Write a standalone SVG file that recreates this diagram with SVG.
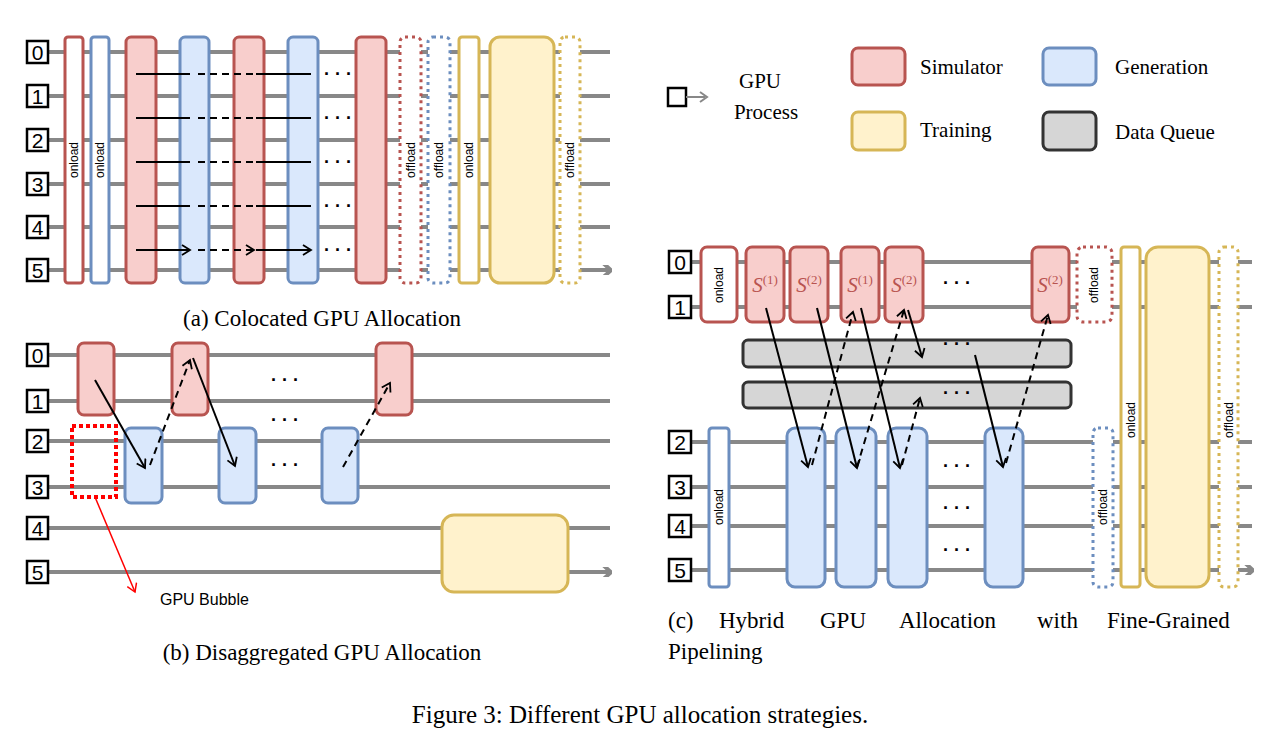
<svg xmlns="http://www.w3.org/2000/svg" width="1280" height="741" viewBox="0 0 1280 741">
<defs>
<marker id="ga" markerWidth="10" markerHeight="10" refX="8" refY="5" orient="auto" markerUnits="userSpaceOnUse"><path d="M0,-3 L9,5 L0,13" transform="scale(1.3) translate(-2,-1)" fill="none" stroke="#888" stroke-width="3"/></marker>
<marker id="ba" markerWidth="12" markerHeight="12" refX="10" refY="6" orient="auto" markerUnits="userSpaceOnUse"><path d="M2,1 L10,6 L2,11" fill="none" stroke="#000" stroke-width="1.8"/></marker>
<marker id="ra" markerWidth="12" markerHeight="12" refX="10" refY="6" orient="auto" markerUnits="userSpaceOnUse"><path d="M2,1 L10,6 L2,11" fill="none" stroke="#f00" stroke-width="1.5"/></marker>
</defs>
<style>
.ln{stroke:#888;stroke-width:4;fill:none}
.r{fill:#f8cecc;stroke:#b85450;stroke-width:3}
.b{fill:#dae8fc;stroke:#6c8ebf;stroke-width:3}
.y{fill:#fff2cc;stroke:#d6b656;stroke-width:3}
.g{fill:#d6d6d6;stroke:#333;stroke-width:3}
.rw{fill:#fff;stroke:#b85450;stroke-width:3}
.bw{fill:#fff;stroke:#6c8ebf;stroke-width:3}
.yw{fill:#fff;stroke:#d6b656;stroke-width:3}
.rd{fill:#fff;stroke:#b85450;stroke-width:3;stroke-dasharray:3 4}
.bd{fill:#fff;stroke:#6c8ebf;stroke-width:3;stroke-dasharray:3 4}
.yd{fill:#fff;stroke:#d6b656;stroke-width:3;stroke-dasharray:3 4}
.lb{fill:#fff;stroke:#000;stroke-width:2.5}
.num{font-family:"Liberation Sans",sans-serif;font-size:21px;text-anchor:middle}
.vt{font-family:"Liberation Sans",sans-serif;font-size:12px;text-anchor:middle}
.cap{font-family:"Liberation Serif",serif;font-size:23px}
.leg{font-family:"Liberation Serif",serif;font-size:21px}
.dots{font-family:"Liberation Sans",sans-serif;font-size:18px;text-anchor:middle;font-weight:bold}
.s{font-family:"Liberation Serif",serif;font-style:italic;font-size:21px;fill:#b85450;text-anchor:middle}
.ss{font-style:normal;font-size:13px}
.a{stroke:#000;stroke-width:2;fill:none;marker-end:url(#ba)}
.ad{stroke:#000;stroke-width:2;fill:none;stroke-dasharray:7 5;marker-end:url(#ba)}
</style>

<!-- Panel (a) -->
<g id="a-lines">
<path class="ln" d="M48,52H610M48,96H610M48,140H610M48,184H610M48,227H610M48,270H610" marker-end="url(#ga)"/>
</g>
<g id="a-labels">
<rect class="lb" x="27" y="41" width="21" height="22"/><text class="num" x="37.5" y="60">0</text>
<rect class="lb" x="27" y="85" width="21" height="22"/><text class="num" x="37.5" y="104">1</text>
<rect class="lb" x="27" y="129" width="21" height="22"/><text class="num" x="37.5" y="148">2</text>
<rect class="lb" x="27" y="173" width="21" height="22"/><text class="num" x="37.5" y="192">3</text>
<rect class="lb" x="27" y="216" width="21" height="22"/><text class="num" x="37.5" y="235">4</text>
<rect class="lb" x="27" y="259" width="21" height="22"/><text class="num" x="37.5" y="278">5</text>
</g>
<g id="a-nodes">
<rect class="rw" x="65" y="37" width="18" height="246" rx="3"/><text class="vt" transform="translate(78,160) rotate(-90)">onload</text>
<rect class="bw" x="91" y="37" width="18" height="246" rx="3"/><text class="vt" transform="translate(104,160) rotate(-90)">onload</text>
<rect class="r" x="126" y="37" width="30" height="246" rx="5"/>
<rect class="b" x="180" y="37" width="29" height="246" rx="5"/>
<rect class="r" x="234" y="37" width="30" height="246" rx="5"/>
<rect class="b" x="288" y="37" width="30" height="246" rx="5"/>
<rect class="r" x="356" y="37" width="30" height="246" rx="5"/>
<rect class="rd" x="400" y="37" width="21" height="246" rx="5"/><text class="vt" transform="translate(415,160) rotate(-90)">offload</text>
<rect class="bd" x="428" y="37" width="22" height="246" rx="5"/><text class="vt" transform="translate(443,160) rotate(-90)">offload</text>
<rect class="yw" x="459" y="37" width="20" height="246" rx="3"/><text class="vt" transform="translate(473,160) rotate(-90)">onload</text>
<rect class="y" x="490" y="37" width="64" height="246" rx="10"/>
<rect class="yd" x="560" y="37" width="20" height="246" rx="5"/><text class="vt" transform="translate(574,160) rotate(-90)">offload</text>
</g>
<g id="a-connectors">
<path class="a" d="M136,74H190M136,118H190M136,162H190M136,206H190M136,250H190"/>
<path class="ad" d="M198,74H254M198,118H254M198,162H254M198,206H254M198,250H254"/>
<path class="a" d="M256,74H311M256,118H311M256,162H311M256,206H311M256,250H311"/>
<text class="dots" x="338" y="80">· · ·</text><text class="dots" x="338" y="124">· · ·</text><text class="dots" x="338" y="168">· · ·</text><text class="dots" x="338" y="212">· · ·</text><text class="dots" x="338" y="256">· · ·</text>
</g>
<text class="cap" x="322" y="326" text-anchor="middle">(a) Colocated GPU Allocation</text>

<!-- Panel (b) -->
<g id="b-lines">
<path class="ln" d="M48,355H610M48,401H610M48,441H610M48,487H610M48,528H610M48,572H610" marker-end="url(#ga)"/>
</g>
<g id="b-labels">
<rect class="lb" x="27" y="344" width="21" height="22"/><text class="num" x="37.5" y="363">0</text>
<rect class="lb" x="27" y="390" width="21" height="22"/><text class="num" x="37.5" y="409">1</text>
<rect class="lb" x="27" y="430" width="21" height="22"/><text class="num" x="37.5" y="449">2</text>
<rect class="lb" x="27" y="476" width="21" height="22"/><text class="num" x="37.5" y="495">3</text>
<rect class="lb" x="27" y="517" width="21" height="22"/><text class="num" x="37.5" y="536">4</text>
<rect class="lb" x="27" y="561" width="21" height="22"/><text class="num" x="37.5" y="580">5</text>
</g>
<g id="b-nodes">
<rect class="r" x="78" y="343" width="36" height="72" rx="6"/>
<rect class="r" x="172" y="343" width="36" height="72" rx="6"/>
<rect class="r" x="376" y="343" width="36" height="72" rx="6"/>
<rect class="b" x="125" y="428" width="37" height="75" rx="6"/>
<rect class="b" x="219" y="428" width="37" height="75" rx="6"/>
<rect class="b" x="322" y="428" width="36" height="75" rx="6"/>
<rect x="72" y="426" width="44" height="71" fill="none" stroke="#f00" stroke-width="4" stroke-dasharray="4 3"/>
<rect class="y" x="442" y="515" width="126" height="77" rx="12"/>
<text x="160" y="605" font-family="Liberation Sans,sans-serif" font-size="16">GPU Bubble</text>
</g>
<g id="b-connectors">
<path class="a" d="M95,380L145,468"/>
<path class="ad" d="M150,465L190,360"/>
<path class="a" d="M193,358L235,466"/>
<path class="ad" d="M343,467L390,383"/>
<path d="M95,497L135,592" stroke="#f00" stroke-width="1.5" fill="none" marker-end="url(#ra)"/>
<text class="dots" x="285" y="386">· · ·</text><text class="dots" x="285" y="426">· · ·</text><text class="dots" x="285" y="471">· · ·</text>
</g>
<text class="cap" x="322" y="660" text-anchor="middle">(b) Disaggregated GPU Allocation</text>

<!-- Legend -->
<g id="legend">
<rect class="lb" x="668" y="88" width="18" height="18"/>
<path d="M686,97H705" stroke="#888" stroke-width="2"/><path d="M700,92L707,97L700,102" fill="none" stroke="#888" stroke-width="2"/>
<text class="leg" x="760" y="88" text-anchor="middle">GPU</text>
<text class="leg" x="766" y="119" text-anchor="middle">Process</text>
<rect class="r" x="852" y="48" width="53" height="37" rx="6"/><text class="leg" x="920" y="74">Simulator</text>
<rect class="b" x="1043" y="48" width="53" height="37" rx="6"/><text class="leg" x="1115" y="74">Generation</text>
<rect class="y" x="852" y="112" width="53" height="38" rx="6"/><text class="leg" x="920" y="137">Training</text>
<rect class="g" x="1043" y="112" width="53" height="38" rx="6"/><text class="leg" x="1115" y="139">Data Queue</text>
</g>

<!-- Panel (c) -->
<g id="c-lines">
<path class="ln" d="M692,262H1252M692,307H1252M692,442H1252M692,487H1252M692,526H1252M692,570H1252" marker-end="url(#ga)"/>
</g>
<g id="c-labels">
<rect class="lb" x="669" y="251" width="22" height="22"/><text class="num" x="680" y="270">0</text>
<rect class="lb" x="669" y="296" width="22" height="22"/><text class="num" x="680" y="315">1</text>
<rect class="lb" x="669" y="431" width="22" height="22"/><text class="num" x="680" y="450">2</text>
<rect class="lb" x="669" y="476" width="22" height="22"/><text class="num" x="680" y="495">3</text>
<rect class="lb" x="669" y="515" width="22" height="22"/><text class="num" x="680" y="534">4</text>
<rect class="lb" x="669" y="559" width="22" height="22"/><text class="num" x="680" y="578">5</text>
</g>
<g id="c-nodes">
<rect class="rw" x="701" y="247" width="36" height="75" rx="6"/><text class="vt" transform="translate(723,285) rotate(-90)">onload</text>
<rect class="r" x="746" y="247" width="38" height="75" rx="6"/><text class="s" x="765" y="292">S<tspan class="ss" dy="-8">(1)</tspan></text>
<rect class="r" x="790" y="247" width="38" height="75" rx="6"/><text class="s" x="809" y="292">S<tspan class="ss" dy="-8">(2)</tspan></text>
<rect class="r" x="841" y="247" width="38" height="75" rx="6"/><text class="s" x="860" y="292">S<tspan class="ss" dy="-8">(1)</tspan></text>
<rect class="r" x="885" y="247" width="38" height="75" rx="6"/><text class="s" x="904" y="292">S<tspan class="ss" dy="-8">(2)</tspan></text>
<rect class="r" x="1032" y="247" width="37" height="75" rx="6"/><text class="s" x="1050" y="292">S<tspan class="ss" dy="-8">(2)</tspan></text>
<rect class="rd" x="1077" y="247" width="35" height="75" rx="6"/><text class="vt" transform="translate(1098,285) rotate(-90)">offload</text>
<rect class="g" x="743" y="340" width="328" height="27" rx="5"/>
<rect class="g" x="743" y="382" width="328" height="26" rx="5"/>
<rect class="bw" x="709" y="428" width="20" height="159" rx="3"/><text class="vt" transform="translate(723,507) rotate(-90)">onload</text>
<rect class="b" x="787" y="428" width="38" height="159" rx="8"/>
<rect class="b" x="836" y="428" width="40" height="159" rx="8"/>
<rect class="b" x="888" y="428" width="39" height="159" rx="8"/>
<rect class="b" x="985" y="428" width="38" height="159" rx="8"/>
<rect class="bd" x="1093" y="428" width="20" height="159" rx="5"/><text class="vt" transform="translate(1107,507) rotate(-90)">offload</text>
<rect class="yw" x="1121" y="247" width="19" height="340" rx="3"/><text class="vt" transform="translate(1135,420) rotate(-90)">onload</text>
<rect class="y" x="1146" y="247" width="63" height="340" rx="12"/>
<rect class="yd" x="1219" y="247" width="19" height="340" rx="5"/><text class="vt" transform="translate(1233,420) rotate(-90)">offload</text>
</g>
<g id="c-connectors">
<path class="a" d="M766,308L808,467"/>
<path class="a" d="M817,308L857,468"/>
<path class="ad" d="M812,465L853,312"/>
<path class="a" d="M861,308L900,468"/>
<path class="ad" d="M857,467L904,310"/>
<path class="a" d="M908,310L922,357"/>
<path class="ad" d="M902,465L920,398"/>
<path class="a" d="M975,355L1003,467"/>
<path class="ad" d="M1006,463L1048,315"/>
<text class="dots" x="957" y="289">· · ·</text>
<text class="dots" x="957" y="350">· · ·</text>
<text class="dots" x="957" y="399">· · ·</text>
<text class="dots" x="957" y="472">· · ·</text>
<text class="dots" x="957" y="514">· · ·</text>
<text class="dots" x="957" y="556">· · ·</text>
</g>
<text class="cap" x="668" y="628">(c)</text>
<text class="cap" x="719" y="628">Hybrid</text>
<text class="cap" x="820" y="628">GPU</text>
<text class="cap" x="899" y="628">Allocation</text>
<text class="cap" x="1037" y="628">with</text>
<text class="cap" x="1107" y="628">Fine-Grained</text>
<text class="cap" x="668" y="659">Pipelining</text>

<text x="640" y="723" font-family="Liberation Serif,serif" font-size="25" text-anchor="middle">Figure 3: Different GPU allocation strategies.</text>
</svg>
